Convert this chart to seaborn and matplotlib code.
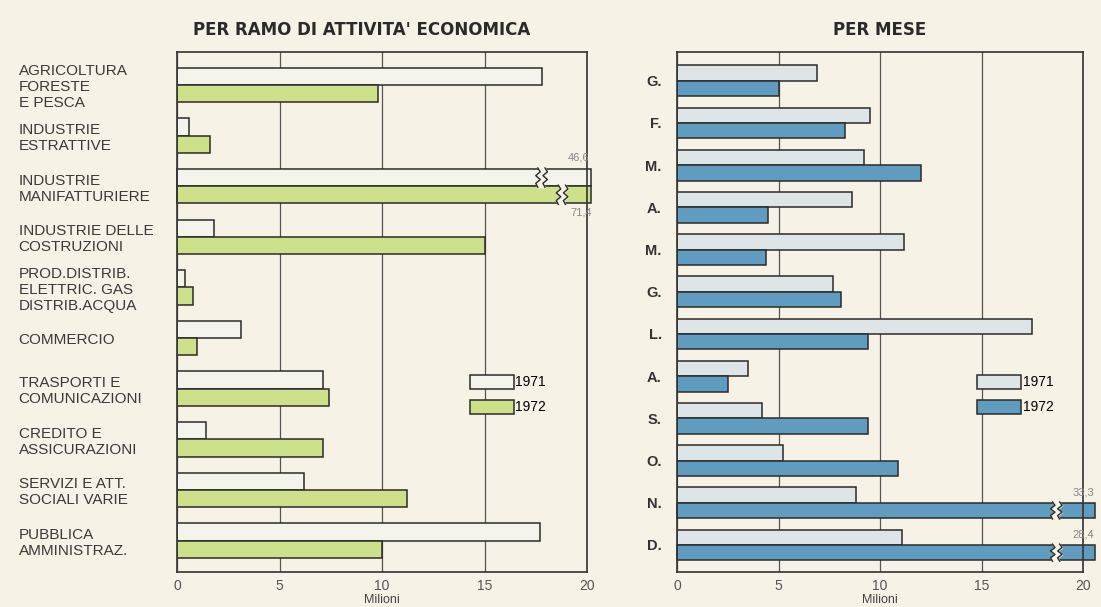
import numpy as np
import pandas as pd
import seaborn as sns
import matplotlib.pyplot as plt
from matplotlib.patches import Patch

# dati (milioni)
rami = ['AGRICOLTURA\nFORESTE\nE PESCA', 'INDUSTRIE\nESTRATTIVE', 'INDUSTRIE\nMANIFATTURIERE',
        'INDUSTRIE DELLE\nCOSTRUZIONI', 'PROD.DISTRIB.\nELETTRIC. GAS\nDISTRIB.ACQUA',
        'COMMERCIO', 'TRASPORTI E\nCOMUNICAZIONI', 'CREDITO E\nASSICURAZIONI',
        'SERVIZI E ATT.\nSOCIALI VARIE', 'PUBBLICA\nAMMINISTRAZ.']
rami_1971 = [17.8, 0.6, 46.6, 1.8, 0.4, 3.1, 7.1, 1.4, 6.2, 17.7]
rami_1972 = [9.8, 1.6, 71.4, 15.0, 0.8, 1.0, 7.4, 7.1, 11.2, 10.0]

mesi = ['G.', 'F.', 'M.', 'A.', 'M.', 'G.', 'L.', 'A.', 'S.', 'O.', 'N.', 'D.']
mesi_1971 = [6.9, 9.5, 9.2, 8.6, 11.2, 7.7, 17.5, 3.5, 4.2, 5.2, 8.8, 11.1]
mesi_1972 = [5.0, 8.3, 12.0, 4.5, 4.4, 8.1, 9.4, 2.5, 9.4, 10.9, 33.3, 28.4]

anni = ['1971', '1972']

BG = '#f7f2e6'
EDGE = '#2b2b2b'

plt.rcParams['font.family'] = ['Liberation Sans', 'DejaVu Sans']


def pannello(ax, labels, v71, v72, cap, colori, width, ylim):
    n = len(labels)
    df = pd.DataFrame({
        'pos': list(range(n)) * 2,
        'anno': [anni[0]] * n + [anni[1]] * n,
        'valore': list(v71) + list(v72),
    })
    df['mostrato'] = np.minimum(df['valore'], cap)
    sns.barplot(data=df, y='pos', x='mostrato', hue='anno', orient='h',
                order=list(range(n)), hue_order=anni, palette=colori,
                width=width, edgecolor=EDGE, linewidth=1.1, legend=False,
                saturation=1, ax=ax)
    ax.set_facecolor(BG)
    ax.set_xlim(0, 20)
    ax.set_ylim(*ylim)
    ax.set_xticks([0, 5, 10, 15, 20])
    ax.grid(axis='x', color='#555555', lw=0.9)
    ax.set_axisbelow(True)
    for s in ax.spines.values():
        s.set_color('#333333')
        s.set_linewidth(1.2)
    ax.tick_params(axis='both', length=0)
    ax.tick_params(axis='x', labelsize=10, labelcolor='#555555', pad=5)
    ax.set_xlabel('Milioni', fontsize=9, color='#444444', labelpad=1)
    ax.set_ylabel('')

    # barre fuori scala: interruzione e valore reale
    vals = [v71, v72]
    rotte = {}
    for p in ax.patches:
        if p.get_width() > 20:
            yc = p.get_y() + p.get_height() / 2
            idx = int(round(yc))
            h = 0 if yc < idx else 1
            rotte[(idx, h)] = p
    for (idx, h), p in rotte.items():
        p.set_clip_on(False)
        y0, hh = p.get_y(), p.get_height()
        sotto = h == 1 and (idx, 0) in rotte
        xb = cap - (1.6 if sotto else 2.6) if cap < 20.4 else cap - 2.1
        ys = np.linspace(y0 - 0.02, y0 + hh + 0.02, 6)
        zz = np.array([0, 0.12, -0.1, 0.12, -0.1, 0])
        ax.fill_betweenx(ys, xb + zz, xb + 0.35 + zz, color=BG, zorder=5, clip_on=False)
        ax.plot(xb + zz, ys, color=EDGE, lw=1.0, zorder=6, clip_on=False)
        ax.plot(xb + 0.35 + zz, ys, color=EDGE, lw=1.0, zorder=6, clip_on=False)
        testo = f'{vals[h][idx]:.1f}'.replace('.', ',')
        if sotto:
            ax.text(cap - 0.5, y0 + hh + 0.08, testo, ha='center', va='top',
                    fontsize=8, color='#888888')
        else:
            ax.text(cap - 0.6, y0 - 0.12, testo, ha='center', va='bottom',
                    fontsize=8, color='#888888')


fig = plt.figure(figsize=(11.01, 6.07), dpi=100)
fig.patch.set_facecolor(BG)

ax1 = fig.add_axes([177 / 1101, 35 / 607, 410 / 1101, 520 / 607])
pannello(ax1, rami, rami_1971, rami_1972, 20.2, ['#f4f4ec', '#cde08a'], 0.68, (9.62, -0.65))
ax1.set_yticks(range(len(rami)))
ax1.set_yticklabels(rami, fontsize=11, color='#3a3a3a', linespacing=1.17)
for t in ax1.get_yticklabels():
    t.set_ha('left')
ax1.tick_params(axis='y', pad=114)
ax1.legend(handles=[Patch(facecolor='#f4f4ec', edgecolor=EDGE, lw=1.1),
                    Patch(facecolor='#cde08a', edgecolor=EDGE, lw=1.1)],
           labels=anni, loc='upper left', bbox_to_anchor=(0.70, 0.39), frameon=False,
           handlelength=3.2, handleheight=1.15, handletextpad=0.1, labelspacing=0.75,
           fontsize=10, borderaxespad=0)

ax2 = fig.add_axes([677 / 1101, 35 / 607, 406 / 1101, 520 / 607])
pannello(ax2, mesi, mesi_1971, mesi_1972, 20.6, ['#dde5e7', '#5f9cc0'], 0.73, (11.64, -0.68))
ax2.set_yticks(range(len(mesi)))
ax2.set_yticklabels(mesi, fontsize=10.5, color='#333333', fontweight='bold')
ax2.tick_params(axis='y', pad=11)
ax2.legend(handles=[Patch(facecolor='#dde5e7', edgecolor=EDGE, lw=1.1),
                    Patch(facecolor='#5f9cc0', edgecolor=EDGE, lw=1.1)],
           labels=anni, loc='upper left', bbox_to_anchor=(0.725, 0.39), frameon=False,
           handlelength=3.2, handleheight=1.15, handletextpad=0.1, labelspacing=0.75,
           fontsize=10, borderaxespad=0)

fig.text(362 / 1101, 1 - 30 / 607, "PER RAMO DI ATTIVITA' ECONOMICA", ha='center', va='center',
         fontsize=12, fontweight='bold', color='#2a2a2a', family=['DejaVu Sans'])
fig.text(880 / 1101, 1 - 30 / 607, 'PER MESE', ha='center', va='center',
         fontsize=12, fontweight='bold', color='#2a2a2a', family=['DejaVu Sans'])

fig.savefig('out.png', dpi=100, facecolor=BG)
